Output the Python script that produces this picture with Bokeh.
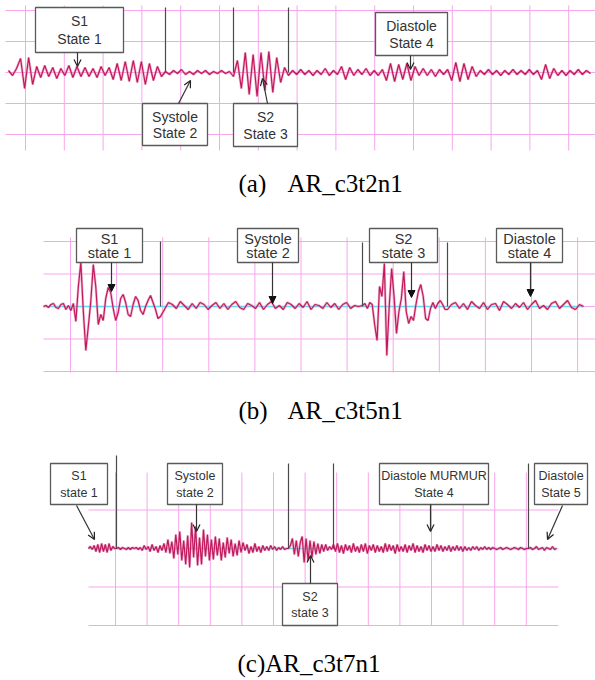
import numpy as np
from bokeh.plotting import figure
from bokeh.models import Range1d, Arrow, OpenHead, NormalHead
from bokeh.core.properties import value
from bokeh.embed import file_html
from bokeh.resources import INLINE

# ---------------- data: waveform amplitudes per state ----------------
# Panel (a) AR_c3t2n1
a_s1 = [2, -3, 4, 14, -16, 15, -12, 6, -5, 7, -4, 5, -6, 4, -3, 7, -5, 6, -4,
        5, -4, 4, -5, 6, -3, 5, -7, 9, -8, 11, -9, 12, -10, 11, -12, 9, -8, 6, -4]
a_sys = [1, -2, 2, -1, 3, -2, 1, -2, 2, -1, 2, -2, 1, -1, 2, -1, 1]
a_s2 = [-4, 12, -16, 20, -22, 18, -24, 20, -18, 21, -20, 15, -10, 5]
a_dia = [-3, 2, -2, 3, -2, 2, -3, 2, -2, 4, -3, 2, -2, 6, -7, 5, -3,
         3, -2, 4, -3, 2, -3, 3, -8, 9, -9, 8, -7, 9, -8, 6,
         -3, 4, -3, 3, -4, 3, -2, 3, -8, 10, -9, 9, -7, 6, -4,
         2, -2, 3, -2, 2, -3, 2, -2, 3, -2, 2, -2, 3, -2, 2,
         -7, 8, -6, 4, -3, 2, -3, 2, -2, 3, -2, 2, -1]

# Panel (b) AR_c3t5n1
b_s1 = [0, 1, -1, 2, 3, -1, -2, 2, 3, -3, 1,
        -4, 3, -15, 20, 44, -5, -44, -20, 5, 42, 20, -18, -8, -14, 8, 19, 14, -2,
        -14, -6, 8, 12, 4, -8, -10, 2, 10, 6, -4, -8, 0, 6, 11, 4, -3, -12]
b_sys = [-10, -3, 4, 2, -2, 5, 1, -3, 3, -2, 4, 2, -3, 1, 4, -2, 3, -3, 2, 5,
         -1, -3, 3, 1, -2, 4, -3, 2, 5, -2, 1, -3, 4, 2, -2, 3, -1, 5, -3, 2,
         1, -2, 4, -1, 3, -3, 2, 4, -2, 1, 0]
b_s2 = [1, 3, -2, 4, 2, -18, -34, 20, 10, 43, -49, 0, 38, 10, -27, -5, 8, 35,
        -5, -17, -10, -14, 2, 15, 22, 10, -12, -14, -2, 4, -2, 3, 6, 2, -3]
b_dia = [-3, 2, 4, -2, 3, -3, 5, 1, -2, 4, -3, 2, 3, -4, 5, 2, -2, 3, -1, 4,
         -3, 2, 6, -2, 1, -3, 3, 5, -2, 2, 6, -1, -3, 2, 0]

# Panel (c) AR_c3t7n1
c_s1 = [0, 2, -1, 3, -3, 4, -4, 5, -3, 4, -4, 5, -2, 2, 0]
c_sys = [0, 1, -1, 1, 0, -1, 1, -1, 1, 0, 1, -1, 1,
         -2, 3, -1, 2, -3, 4, -2, 2, -4, 3, -2, 5, -4,
         9, -5, 7, -10, 14, -6, 17, -12,
         8, -16, 13, -19, 26, -9, 22, -17, 11, -16, 19, -8, 14, -12,
         9, -11, 12, -7, 10, -12, 6, -9, 11, -5, 9, -8, 5, -7, 8,
         -4, 6, -2, 4, -5, 2, -4, 5, -3, 2, -4, 3, -2,
         2, -2, 3, -1, 2, -2, 1, -1, 2, -1, 0]
c_s2 = [0, 3, 10, -6, 8, -8, 6, 12, -14, 10, -12, 8, -9, 7, -6, 5, -5, 4, -3, 4, -2, 2, -1]
c_murmur = [4, -3, 5, -4, 3, -5, 4, -2, 3, -4, 5, -3, 2, -4, 4, -3, 5, -5, 3, -2,
            4, -4, 3, -3, 2, -4, 5, -3, 4, -2, 3, -5, 4, -3, 2, -3, 4, -4, 3, -2,
            5, -4, 3, -3, 2, -4, 4, -2, 3, -3, 2, -3, 4, -2, 3, -3, 2, -2, 3, -3,
            2, -2, 3, -2, 2, -3, 2, -2, 1, -2, 2, -1, 2, -2, 1, -1, 2, -1, 1, -1,
            1, 0, -1, 0, 1, -1, 0, 1, 0, -1, 0, 1, 0, -1, 1, 0, -1, 0]
c_dia = [0, 1, -1, 0, 2, -1, 0, 1, -2, 1, 0, -1, 2, -1, 0]

# labels
labels_a = [("S1", "State 1"), ("Systole", "State 2"), ("S2", "State 3"), ("Diastole", "State 4")]
labels_b = [("S1", "state 1"), ("Systole", "state 2"), ("S2", "state 3"), ("Diastole", "state 4")]
labels_c = [("S1", "state 1"), ("Systole", "state 2"), ("S2", "state 3"),
            ("Diastole MURMUR", "State 4"), ("Diastole", "State 5")]
captions = [["(a)", "AR_c3t2n1"], ["(b)", "AR_c3t5n1"], ["(c)AR_c3t7n1"]]

# ---------------- layout (positions / styles) ----------------
W, H = 595, 680
WAVE = "#c2185b"
GRID = "#f7a6ec"
MARK = "#4a4a4a"
BOX = "#5a5a5a"
TXT = "#333333"
CYAN = "#5fdcf3"

panels = [
    dict(segs=[a_s1, a_sys, a_s2, a_dia], bounds=[8, 165, 233, 288, 590], base=72,
         mark_top=[7, 7, 7], vg=(25, 38.8, 15), vg_y=(5, 150), hg=(31, -2, 2), hg_x=(5, 595),
         cyan=False, labels=labels_a, fs="14px", head="open",
         boxes=[(35, 123, 7, 52), (142, 207, 103, 145), (233, 297, 103, 146), (375, 447, 12, 55)],
         arrows=[(77, 52, 77, 66), (178, 103, 190, 80), (267, 103, 262, 78), (410, 55, 410, 69)],
         cap_y=183),
    dict(segs=[b_s1, b_sys, b_s2, b_dia], bounds=[43, 160, 362, 447, 583], base=306,
         mark_top=[241, 242, 242], vg=(70, 46.1, 12), vg_y=(237, 372), hg=(32.5, -2, 2), hg_x=(43, 595),
         cyan=True, labels=labels_b, fs="14.5px", head="normal",
         boxes=[(76, 142, 228, 262), (237, 298, 228, 262), (369, 437, 228, 262), (496, 562, 228, 262)],
         arrows=[(111, 262, 111, 291), (272, 262, 272, 303), (411, 262, 411, 297), (530, 262, 530, 296)],
         cap_y=410),
    dict(segs=[c_s1, c_sys, c_s2, c_murmur, c_dia], bounds=[88, 116, 288, 333, 528, 556], base=548,
         mark_top=[455, 463, 463, 463], vg=(115, 31.6, 14), vg_y=(472, 625), hg=(38.5, -1, 2), hg_x=(88, 558),
         cyan=True, labels=labels_c, fs="12.5px", head="open",
         boxes=[(50, 107, 463, 504), (167, 222, 463, 504), (282, 337, 583, 625), (379, 488, 463, 504), (534, 587, 463, 504)],
         arrows=[(76, 505, 94, 539), (196, 504, 196, 531), (310, 583, 310, 555), (430, 504, 430, 531), (562, 505, 547, 539)],
         cap_y=663),
]

p = figure(width=W, height=H, x_range=Range1d(0, W), y_range=Range1d(H, 0),
           output_backend="svg", toolbar_location=None, min_border=0)
p.axis.visible = False
p.grid.visible = False
p.outline_line_color = None
p.background_fill_color = "white"
p.border_fill_color = "white"

for pn in panels:
    # pink grid
    x0, dx, n = pn["vg"]
    xs = [x0 + dx * k for k in range(n)]
    p.segment(x0=xs, x1=xs, y0=[pn["vg_y"][0]] * n, y1=[pn["vg_y"][1]] * n, line_color=GRID, line_width=1)
    sp, k0, k1 = pn["hg"]
    ys = [pn["base"] + sp * k for k in range(k0, k1 + 1)]
    p.segment(x0=[pn["hg_x"][0]] * len(ys), x1=[pn["hg_x"][1]] * len(ys), y0=ys, y1=ys, line_color=GRID, line_width=1)
    # waveform
    bx, by = [], []
    b = pn["bounds"]
    for i, seg in enumerate(pn["segs"]):
        last = i == len(pn["segs"]) - 1
        xx = np.linspace(b[i], b[i + 1], len(seg), endpoint=last)
        bx.extend(xx.tolist())
        by.extend([pn["base"] - v for v in seg])
    if pn["cyan"]:
        p.line([b[0], b[-1]], [pn["base"], pn["base"]], line_color=CYAN, line_width=1.5)
    p.line(bx, by, line_color="#e58ab2", line_width=2.6, line_alpha=0.6)
    p.line(bx, by, line_color=WAVE, line_width=1.2)
    # state markers
    mx = b[1:1 + len(pn["mark_top"])]
    p.segment(x0=mx, x1=mx, y0=pn["mark_top"], y1=[pn["base"]] * len(mx), line_color=MARK, line_width=1.2)
    # boxes + texts
    for (t1, t2), (l, r, t, bt) in zip(pn["labels"], pn["boxes"]):
        p.quad(left=[l], right=[r], top=[t], bottom=[bt], fill_color="white", line_color=BOX, line_width=1.3)
        cx = (l + r) / 2
        h = bt - t
        p.text(x=[cx, cx], y=[t + h * 0.31, t + h * 0.71], text=[t1, t2], text_align="center",
               text_baseline="middle", text_font=value("Liberation Sans"), text_font_size=pn["fs"],
               text_color=TXT)
    for (xs_, ys_, xe, ye) in pn["arrows"]:
        if pn["head"] == "open":
            head = OpenHead(size=7, line_color="#222222", line_width=1.2)
        else:
            head = NormalHead(size=7, fill_color="#111111", line_color="#111111")
        p.add_layout(Arrow(end=head, x_start=xs_, y_start=ys_, x_end=xe, y_end=ye,
                           line_color="#333333", line_width=1.2))

# captions
for cap, pn in zip(captions, panels):
    if len(cap) == 2:
        p.text(x=[238, 287], y=[pn["cap_y"]] * 2, text=cap, text_align="left", text_baseline="middle",
               text_font=value("Liberation Serif"), text_font_size="25px", text_color="black")
    else:
        p.text(x=[237], y=[pn["cap_y"]], text=cap, text_align="left", text_baseline="middle",
               text_font=value("Liberation Serif"), text_font_size="25px", text_color="black")

open("out.html", "w").write(file_html(p, INLINE))
